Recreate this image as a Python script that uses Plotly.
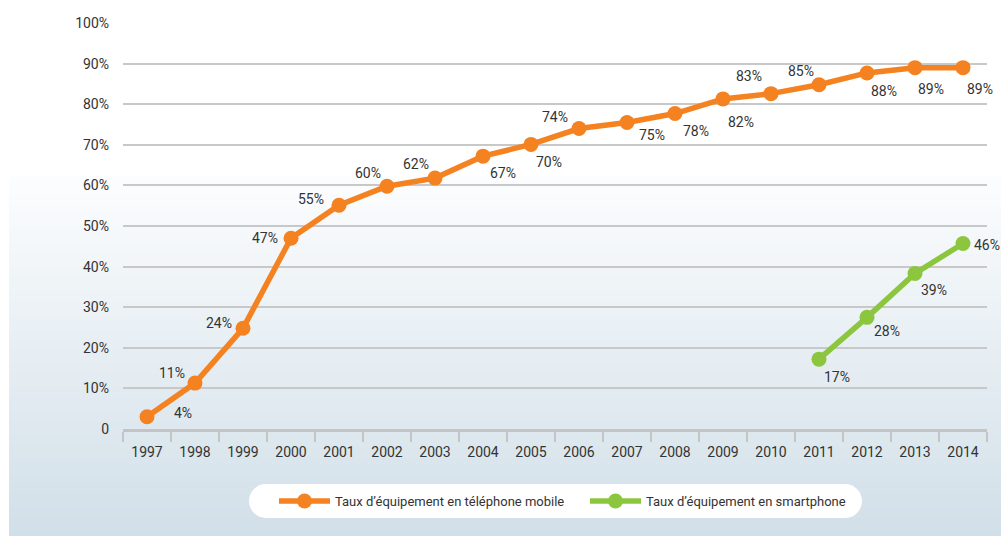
import plotly.graph_objects as go

# ---- data ----
years = ["1997", "1998", "1999", "2000", "2001", "2002", "2003", "2004", "2005",
         "2006", "2007", "2008", "2009", "2010", "2011", "2012", "2013", "2014"]
mobile_values = [3, 11.3, 24.8, 47, 55.1, 59.8, 61.8, 67.2, 70.1,
                 74, 75.5, 77.7, 81.3, 82.6, 84.8, 87.7, 89, 89]
mobile_labels = ["4%", "11%", "24%", "47%", "55%", "60%", "62%", "67%", "70%",
                 "74%", "75%", "78%", "82%", "83%", "85%", "88%", "89%", "89%"]
smart_years = ["2011", "2012", "2013", "2014"]
smart_values = [17.2, 27.5, 38.3, 45.7]
smart_labels = ["17%", "28%", "39%", "46%"]
y_tickvals = [0, 10, 20, 30, 40, 50, 60, 70, 80, 90, 100]
y_ticktext = ["0", "10%", "20%", "30%", "40%", "50%", "60%", "70%", "80%", "90%", "100%"]
series_names = ["Taux d\u2019équipement en téléphone mobile", "Taux d\u2019équipement en smartphone"]

# ---- style ----
ORANGE = "#f58220"
GREEN = "#8cc63f"
TXT = "#333333"
FONT = "Roboto, Liberation Sans, sans-serif"
FS = 14
W, H = 1001, 536
L, R, T, B = 123, 987, 23, 429

# label offsets (px, right / down) relative to the point
mobile_off = [(36, -4), (-23, -10), (-24, -5), (-26, 0), (-28, -6), (-19, -13), (-19, -14),
              (20, 17), (18, 18), (-24, -12), (25, 13), (21, 17), (18, 23), (-22, -18),
              (-18, -14), (17, 18), (16, 21), (17, 21)]
smart_off = [(18, 18), (20, 14), (19, 16), (24, 2)]


def px(xp):
    return (xp - L) / (R - L)


def py(yp):
    return (B - yp) / (B - T)


fig = go.Figure()
fig.add_trace(go.Scatter(x=years, y=mobile_values, mode="lines+markers", name=series_names[0],
                         line=dict(color=ORANGE, width=5.5),
                         marker=dict(color=ORANGE, size=15), cliponaxis=False))
fig.add_trace(go.Scatter(x=smart_years, y=smart_values, mode="lines+markers", name=series_names[1],
                         line=dict(color=GREEN, width=5.5),
                         marker=dict(color=GREEN, size=15), cliponaxis=False))

annotations = []
for xs, ys, ls, offs in [(years, mobile_values, mobile_labels, mobile_off),
                         (smart_years, smart_values, smart_labels, smart_off)]:
    for x, y, lab, (dx, dy) in zip(xs, ys, ls, offs):
        annotations.append(dict(x=years.index(x), y=y, xref="x", yref="y", text=lab, showarrow=False,
                                xshift=dx, yshift=-dy, font=dict(size=FS, color=TXT, family=FONT)))

# gradient background (stacked bands)
shapes = []
g_top, g_bot = 176, 536
c0, c1 = (252, 253, 254), (209, 223, 232)
n = 60
for i in range(n):
    y0 = g_top + (g_bot - g_top) * i / n
    y1 = g_top + (g_bot - g_top) * (i + 1) / n + 0.6
    t = (i + 0.5) / n
    col = "rgb(%d,%d,%d)" % tuple(round(a + (b - a) * t) for a, b in zip(c0, c1))
    shapes.append(dict(type="rect", xref="paper", yref="paper", x0=px(9), x1=px(W + 2),
                       y0=py(min(y1, g_bot + 2)), y1=py(y0), fillcolor=col, line=dict(width=0),
                       layer="below"))

# rounded legend box
bx0, bx1, by0, by1 = 249, 862, 484, 518
r = (by1 - by0) / 2
k = 0.5523 * r
path = "M %f,%f " % (px(bx0 + r), py(by0))
path += "L %f,%f " % (px(bx1 - r), py(by0))
path += "C %f,%f %f,%f %f,%f " % (px(bx1 - r + k), py(by0), px(bx1), py(by0 + r - k), px(bx1), py(by0 + r))
path += "C %f,%f %f,%f %f,%f " % (px(bx1), py(by0 + r + k), px(bx1 - r + k), py(by1), px(bx1 - r), py(by1))
path += "L %f,%f " % (px(bx0 + r), py(by1))
path += "C %f,%f %f,%f %f,%f " % (px(bx0 + r - k), py(by1), px(bx0), py(by1 - r + k), px(bx0), py(by1 - r))
path += "C %f,%f %f,%f %f,%f Z" % (px(bx0), py(by0 + r - k), px(bx0 + r - k), py(by0), px(bx0 + r), py(by0))
shapes.append(dict(type="path", xref="paper", yref="paper", path=path, fillcolor="white",
                   line=dict(width=0), layer="below"))

fig.update_layout(
    width=W, height=H,
    margin=dict(l=L, r=W - R, t=T, b=H - B),
    paper_bgcolor="white", plot_bgcolor="rgba(0,0,0,0)",
    font=dict(family=FONT, size=FS, color=TXT),
    showlegend=True,
    legend=dict(orientation="h", x=px(274), y=py(501), xanchor="left", yanchor="middle",
                bgcolor="rgba(0,0,0,0)", font=dict(size=13, color=TXT, family=FONT),
                entrywidth=245, entrywidthmode="pixels", itemwidth=51),
    shapes=shapes,
    annotations=annotations,
    xaxis=dict(type="category", range=[-0.5, 17.5], tickson="boundaries", ticks="outside",
               ticklen=10, tickwidth=2, tickangle=0, ticklabelstandoff=8,
               tickcolor="#c4c4c4", showline=True, linecolor="#c4c4c4", linewidth=2.5,
               showgrid=False, tickfont=dict(size=FS, color=TXT, family=FONT)),
    yaxis=dict(range=[0, 100], tickvals=y_tickvals, ticktext=y_ticktext, showgrid=True,
               gridcolor="#c8c8c8", gridwidth=1.5, zeroline=False, showline=False,
               ticks="", ticklabelstandoff=13, tickfont=dict(size=FS, color=TXT, family=FONT)),
)

fig.write_html("out.html", config={"displayModeBar": False},
               post_script="document.body.style.margin='0';")
